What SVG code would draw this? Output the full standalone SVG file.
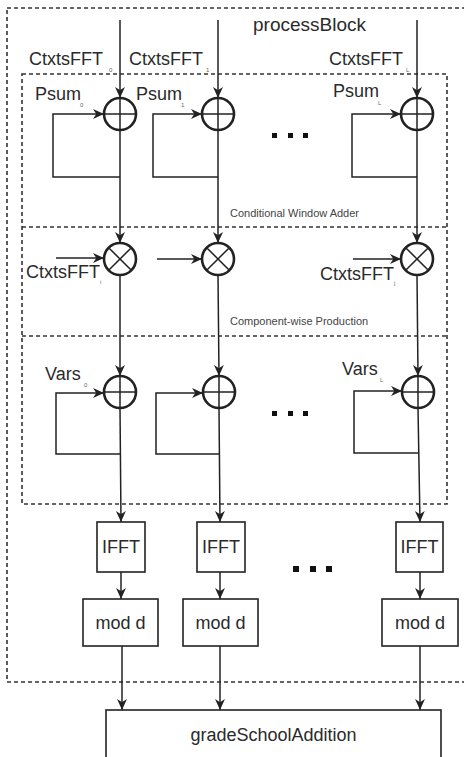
<svg xmlns="http://www.w3.org/2000/svg" width="464" height="757" viewBox="0 0 464 757">
<defs>
<marker id="ah" viewBox="0 0 10 10" refX="10" refY="5" markerWidth="11" markerHeight="11" markerUnits="userSpaceOnUse" orient="auto">
<path d="M0,0.5 L10,5 L0,9.5 L3,5 Z" fill="#222"/>
</marker>
<style>
.dash{fill:none;stroke:#333;stroke-width:1.6;stroke-dasharray:4 3}
.ln{fill:none;stroke:#222;stroke-width:1.5}
.arr{fill:none;stroke:#222;stroke-width:1.5;marker-end:url(#ah)}
.op{fill:#fff;stroke:#222;stroke-width:2.6}
.box{fill:#fff;stroke:#222;stroke-width:1.6}
.t{font-family:"Liberation Sans",Arial,sans-serif;font-size:18px;fill:#2a2a2a}
.s{font-family:"Liberation Sans",Arial,sans-serif;font-size:6px;fill:#666}
.c{font-family:"Liberation Sans",Arial,sans-serif;font-size:11px;fill:#444}
.dot{fill:#111}
</style>
</defs>
<rect width="464" height="757" fill="#fff"/>
<g id="processBlock">
<rect class="dash" x="7" y="8" width="470" height="674"/>
<text class="t" x="253" y="31" style="font-size:19px">processBlock</text>
</g>
<g id="stages">
<rect class="dash" x="22" y="74" width="425" height="430"/>
<line class="dash" x1="22" y1="227" x2="447" y2="227"/>
<line class="dash" x1="22" y1="336" x2="447" y2="336"/>
<text class="c" x="230" y="217">Conditional Window Adder</text>
<text class="c" x="230" y="325">Component-wise Production</text>
</g>
<g id="connectors">
<line class="arr" x1="120" y1="20" x2="120" y2="98"/>
<line class="arr" x1="218" y1="20" x2="218" y2="98"/>
<line class="arr" x1="417" y1="20" x2="417" y2="98"/>
<polyline class="arr" points="120,177 53,177 53,114 104,114"/>
<polyline class="arr" points="218,177 153,177 153,114 202,114"/>
<polyline class="arr" points="417,177 352,177 352,114 401,114"/>
<line class="arr" x1="120" y1="130" x2="120" y2="243"/>
<line class="arr" x1="218" y1="130" x2="218" y2="243"/>
<line class="arr" x1="417" y1="130" x2="417" y2="243"/>
<line class="arr" x1="56" y1="258" x2="104" y2="258"/>
<line class="arr" x1="157" y1="259" x2="202" y2="259"/>
<line class="arr" x1="353" y1="259" x2="401" y2="259"/>
<line class="arr" x1="120" y1="275" x2="120" y2="376"/>
<line class="arr" x1="218" y1="275" x2="219" y2="376"/>
<line class="arr" x1="417" y1="275" x2="418" y2="376"/>
<polyline class="arr" points="120,454 56,454 56,393 104,393"/>
<polyline class="arr" points="219,454 156,454 156,393 203,393"/>
<polyline class="arr" points="418,453 354,453 354,391 402,391"/>
<line class="arr" x1="120" y1="408" x2="121" y2="522"/>
<line class="arr" x1="219" y1="408" x2="220" y2="522"/>
<line class="arr" x1="418" y1="408" x2="420" y2="522"/>
<line class="arr" x1="121" y1="572" x2="121" y2="599"/>
<line class="arr" x1="220" y1="572" x2="220" y2="599"/>
<line class="arr" x1="420" y1="572" x2="420" y2="599"/>
<line class="arr" x1="122" y1="646" x2="122" y2="710"/>
<line class="arr" x1="220" y1="646" x2="220" y2="710"/>
<line class="arr" x1="420" y1="646" x2="420" y2="710"/>
</g>
<g id="labels">
<text class="t" x="29" y="65">CtxtsFFT</text><text class="s" x="109" y="72">0</text>
<text class="t" x="129" y="65">CtxtsFFT</text><text class="s" x="206" y="72">1</text>
<text class="t" x="329" y="65">CtxtsFFT</text><text class="s" x="406" y="72">L</text>
<text class="t" x="35" y="100">Psum</text><text class="s" x="80" y="107">0</text>
<text class="t" x="136" y="100">Psum</text><text class="s" x="181" y="107">1</text>
<text class="t" x="333" y="97">Psum</text><text class="s" x="378" y="105">L</text>
<text class="t" x="26" y="278">CtxtsFFT</text><text class="s" x="100" y="284">i</text>
<text class="t" x="320" y="280">CtxtsFFT</text><text class="s" x="394" y="285">j</text>
<text class="t" x="45" y="380">Vars</text><text class="s" x="84" y="387">0</text>
<text class="t" x="342" y="375">Vars</text><text class="s" x="380" y="382">L</text>
</g>
<g id="add-psum-0"><circle class="op" cx="120" cy="114" r="16"/><path class="ln" d="M104,114H136M120,98V130" stroke-width="2.4"/></g>
<g id="add-psum-1"><circle class="op" cx="218" cy="114" r="16"/><path class="ln" d="M202,114H234M218,98V130" stroke-width="2.4"/></g>
<g id="add-psum-L"><circle class="op" cx="417" cy="114" r="16"/><path class="ln" d="M401,114H433M417,98V130" stroke-width="2.4"/></g>
<g id="dots-1"><rect class="dot" x="272" y="133" width="5" height="5"/><rect class="dot" x="288" y="133" width="5" height="5"/><rect class="dot" x="303" y="133" width="5" height="5"/></g>
<g id="mul-0"><circle class="op" cx="120" cy="259" r="16"/><path class="ln" d="M108.7,247.7L131.3,270.3M131.3,247.7L108.7,270.3" stroke-width="2.4"/></g>
<g id="mul-1"><circle class="op" cx="218" cy="259" r="16"/><path class="ln" d="M206.7,247.7L229.3,270.3M229.3,247.7L206.7,270.3" stroke-width="2.4"/></g>
<g id="mul-L"><circle class="op" cx="417" cy="259" r="16"/><path class="ln" d="M405.7,247.7L428.3,270.3M428.3,247.7L405.7,270.3" stroke-width="2.4"/></g>
<g id="add-vars-0"><circle class="op" cx="120" cy="392" r="16"/><path class="ln" d="M104,392H136M120,376V408" stroke-width="2.4"/></g>
<g id="add-vars-1"><circle class="op" cx="219" cy="392" r="16"/><path class="ln" d="M203,392H235M219,376V408" stroke-width="2.4"/></g>
<g id="add-vars-L"><circle class="op" cx="418" cy="392" r="16"/><path class="ln" d="M402,392H434M418,376V408" stroke-width="2.4"/></g>
<g id="dots-2"><rect class="dot" x="272" y="411" width="5" height="5"/><rect class="dot" x="288" y="411" width="5" height="5"/><rect class="dot" x="303" y="411" width="5" height="5"/></g>
<g id="ifft-0"><rect class="box" x="97" y="522" width="48" height="50"/><text class="t" x="121" y="553" text-anchor="middle">IFFT</text></g>
<g id="ifft-1"><rect class="box" x="197" y="522" width="48" height="50"/><text class="t" x="221" y="553" text-anchor="middle">IFFT</text></g>
<g id="ifft-L"><rect class="box" x="396" y="522" width="47" height="50"/><text class="t" x="419.5" y="553" text-anchor="middle">IFFT</text></g>
<g id="dots-3"><rect class="dot" x="293" y="566" width="6" height="6"/><rect class="dot" x="310" y="566" width="6" height="6"/><rect class="dot" x="326" y="566" width="6" height="6"/></g>
<g id="mod-0"><rect class="box" x="83" y="599" width="75" height="47"/><text class="t" x="120.5" y="629" text-anchor="middle">mod d</text></g>
<g id="mod-1"><rect class="box" x="183" y="599" width="75" height="47"/><text class="t" x="220.5" y="629" text-anchor="middle">mod d</text></g>
<g id="mod-L"><rect class="box" x="382" y="599" width="76" height="47"/><text class="t" x="420" y="629" text-anchor="middle">mod d</text></g>
<g id="gradeSchoolAddition"><rect class="box" x="106" y="710" width="335" height="60"/><text class="t" x="273.5" y="741" text-anchor="middle">gradeSchoolAddition</text></g>
</svg>
